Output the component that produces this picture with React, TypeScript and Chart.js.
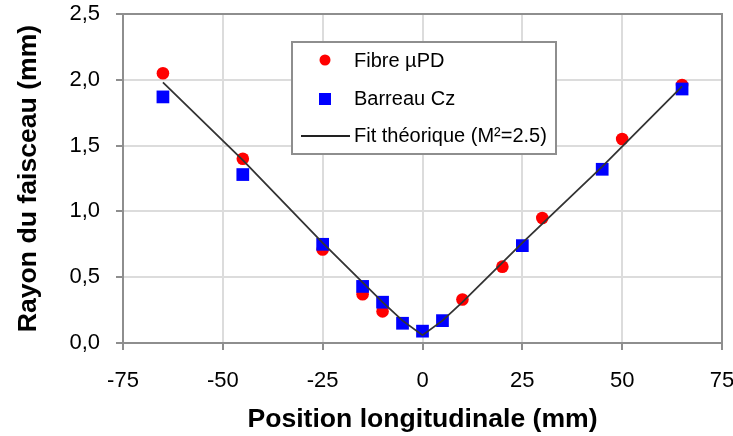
import React, { useEffect, useRef } from "react";
import { Chart, registerables } from "chart.js";

Chart.register(...registerables);

// Fibre µPD (red circles)
const fibreZ = [-65, -45, -25, -15, -10, 10, 20, 30, 50, 65];
const fibreW = [2.05, 1.40, 0.71, 0.37, 0.24, 0.33, 0.58, 0.95, 1.55, 1.96];

// Barreau Cz (blue squares)
const barreauZ = [-65, -45, -25, -15, -10, -5, 0, 5, 25, 45, 65];
const barreauW = [1.87, 1.28, 0.75, 0.43, 0.31, 0.15, 0.09, 0.17, 0.74, 1.32, 1.93];

// Fit théorique (M²=2.5)
const fitZ = [-65, -45, -25, -15, -10, -5, 0, 5, 10, 25, 45, 65];
const fitW = [1.98, 1.39, 0.76, 0.46, 0.31, 0.17, 0.06, 0.17, 0.31, 0.76, 1.34, 1.95];

const xTicks = [-75, -50, -25, 0, 25, 50, 75];
const yTicks = [0, 0.5, 1.0, 1.5, 2.0, 2.5];

const seriesNames = ["Fibre µPD", "Barreau Cz", "Fit théorique (M²=2.5)"];

const FONT = "'Liberation Sans', Arial, sans-serif";
const AXIS = "#8e8e8e";
const GRID = "#dcdcdc";

const toPts = (xs: number[], ys: number[]) => xs.map((x, i) => ({ x, y: ys[i] }));

const frameAndLegend = {
  id: "frameAndLegend",
  beforeDatasetsDraw(chart: any) {
    const { ctx, chartArea } = chart;
    ctx.save();
    ctx.strokeStyle = AXIS;
    ctx.lineWidth = 2;
    ctx.beginPath();
    ctx.moveTo(chartArea.left, chartArea.top);
    ctx.lineTo(chartArea.right, chartArea.top);
    ctx.lineTo(chartArea.right, chartArea.bottom);
    ctx.stroke();
    ctx.restore();
  },
  afterDraw(chart: any) {
    const { ctx } = chart;
    const bx = 292, by = 42, bw = 264, bh = 112;
    ctx.save();
    ctx.fillStyle = "#ffffff";
    ctx.fillRect(bx, by, bw, bh);
    ctx.strokeStyle = AXIS;
    ctx.lineWidth = 2;
    ctx.strokeRect(bx, by, bw, bh);
    ctx.font = `20px ${FONT}`;
    ctx.fillStyle = "#000";
    ctx.textBaseline = "middle";
    ctx.textAlign = "left";
    const tx = 354;
    // row 1
    ctx.fillStyle = "#ff0000";
    ctx.beginPath();
    ctx.arc(325, 60, 5.5, 0, Math.PI * 2);
    ctx.fill();
    ctx.fillStyle = "#000";
    ctx.fillText(seriesNames[0], tx, 61);
    // row 2
    ctx.fillStyle = "#0000ff";
    ctx.fillRect(319, 93, 12, 12);
    ctx.fillStyle = "#000";
    ctx.fillText(seriesNames[1], tx, 99);
    // row 3
    ctx.strokeStyle = "#222";
    ctx.lineWidth = 2;
    ctx.beginPath();
    ctx.moveTo(301, 136);
    ctx.lineTo(350, 136);
    ctx.stroke();
    ctx.fillText(seriesNames[2], tx, 136);
    ctx.restore();
  },
};

export default function App() {
  const ref = useRef<HTMLCanvasElement | null>(null);
  useEffect(() => {
    if (!ref.current) return;
    const chart = new Chart(ref.current, {
      type: "scatter",
      data: {
        datasets: [
          {
            label: seriesNames[2],
            type: "line",
            data: toPts(fitZ, fitW),
            borderColor: "#333333",
            borderWidth: 1.8,
            pointRadius: 0,
            showLine: true,
            fill: false,
            tension: 0,
            order: 0,
          } as any,
          {
            label: seriesNames[1],
            data: toPts(barreauZ, barreauW),
            pointStyle: "rect",
            pointRadius: 9,
            backgroundColor: "#0000ff",
            borderColor: "#0000ff",
            borderWidth: 0,
            order: 1,
          },
          {
            label: seriesNames[0],
            data: toPts(fibreZ, fibreW),
            pointStyle: "circle",
            pointRadius: 6.3,
            backgroundColor: "#ff0000",
            borderColor: "#ff0000",
            borderWidth: 0,
            order: 2,
          },
        ],
      },
      options: {
        animation: false,
        responsive: false,
        maintainAspectRatio: false,
        layout: { padding: { top: 14, right: 11, left: 0, bottom: 0 } },
        plugins: { legend: { display: false }, tooltip: { enabled: false } },
        scales: {
          x: {
            type: "linear",
            min: xTicks[0],
            max: xTicks[xTicks.length - 1],
            afterBuildTicks: (s: any) => {
              s.ticks = xTicks.map((v) => ({ value: v }));
            },
            afterFit: (s: any) => {
              s.height = 93;
              s.paddingLeft = 0;
              s.paddingRight = 0;
            },
            grid: {
              color: GRID,
              lineWidth: 2,
              tickColor: AXIS,
              tickWidth: 2,
              tickLength: 7,
            },
            border: { display: true, color: AXIS, width: 2 },
            ticks: {
              font: { family: FONT, size: 22 },
              color: "#000",
              padding: 18,
              maxRotation: 0,
            },
            title: {
              display: true,
              text: "Position longitudinale (mm)",
              font: { family: FONT, size: 26.6, weight: "bold" },
              color: "#000",
              padding: { top: 0, bottom: 0 },
            },
          },
          y: {
            type: "linear",
            min: yTicks[0],
            max: yTicks[yTicks.length - 1],
            afterBuildTicks: (s: any) => {
              s.ticks = yTicks.map((v) => ({ value: v }));
            },
            afterFit: (s: any) => {
              s.width = 123;
              s.paddingTop = 0;
              s.paddingBottom = 0;
            },
            grid: {
              color: GRID,
              lineWidth: 2,
              tickColor: AXIS,
              tickWidth: 2,
              tickLength: 7,
            },
            border: { display: true, color: AXIS, width: 2 },
            ticks: {
              font: { family: FONT, size: 22 },
              color: "#000",
              padding: 16,
              callback: (v: any) => Number(v).toFixed(1).replace(".", ","),
            },
            title: {
              display: true,
              text: "Rayon du faisceau (mm)",
              font: { family: FONT, size: 26.6, weight: "bold" },
              color: "#000",
              padding: { top: 13, bottom: 0 },
            },
          },
        },
      },
      plugins: [frameAndLegend],
    });
    return () => chart.destroy();
  }, []);
  return (
    <div style={{ position: "absolute", left: 0, top: 0, width: 733, height: 436, background: "#fff" }}>
      <canvas ref={ref} width={733} height={436} style={{ width: 733, height: 436, display: "block" }} />
    </div>
  );
}
